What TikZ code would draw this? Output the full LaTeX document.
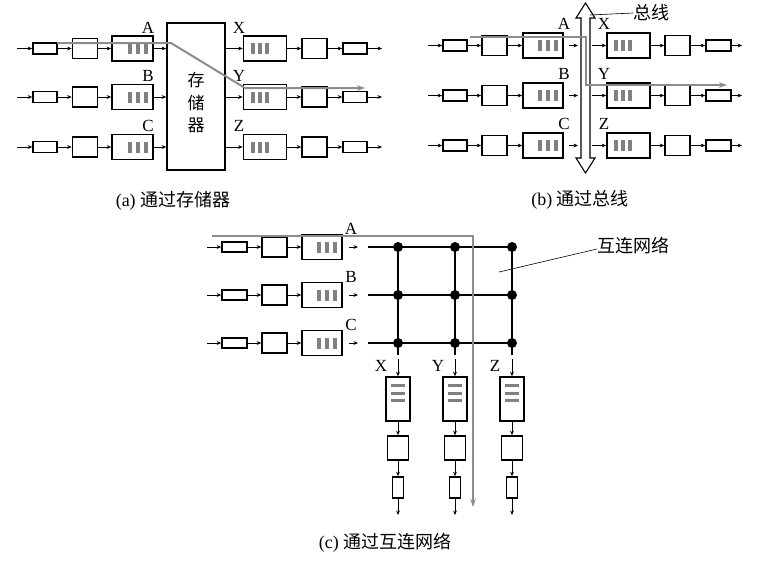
\documentclass[tikz,border=0pt]{standalone}
\usepackage{fontspec}
\setmainfont{Liberation Serif}
\newfontfamily\cjk{Noto Sans CJK SC}
\usetikzlibrary{arrows.meta}

\tikzset{
  box/.style={draw, line width=1.6pt, inner sep=0pt, fill=white},
  smbox/.style={box, minimum width=24, minimum height=11},
  sqbox/.style={box, minimum width=25, minimum height=20},
  bar/.style={fill=black!50},
  qright/.style={box, minimum width=41, minimum height=25, path picture={
    \foreach \k in {-23,-15,-7}
      \fill[bar] ([xshift=\k pt]path picture bounding box.east) ++(-2pt,5.5pt) rectangle ++(4pt,-11pt);}},
  qleft/.style={box, minimum width=43, minimum height=25, path picture={
    \foreach \k in {9,16,23}
      \fill[bar] ([xshift=\k pt]path picture bounding box.west) ++(-2pt,5.5pt) rectangle ++(4pt,-11pt);}},
  qdown/.style={box, minimum width=24, minimum height=44, path picture={
    \foreach \k in {8,16,23}
      \fill[bar] ([yshift=-\k pt]path picture bounding box.north) ++(-7pt,1.5pt) rectangle ++(14pt,-3pt);}},
  con/.style={line width=0.9pt, -{Stealth[length=4.5pt,width=3.8pt]}},
  grey/.style={draw=black!45, line width=2pt, -{Stealth[length=8pt,width=5.5pt]}},
  lbl/.style={font=\fontsize{17}{19}\selectfont, inner sep=0pt},
  captxt/.style={font=\fontsize{18}{20}\selectfont, inner sep=0pt},
  zh/.style={font=\cjk\fontsize{18}{20}\selectfont, inner sep=0pt},
  net/.style={line width=2.4pt},
  dot/.style={circle, fill, inner sep=0pt, minimum size=10},
}

\begin{document}
\begin{tikzpicture}[x=1pt,y=-1pt]
\useasboundingbox (0,0) rectangle (779,563);

% (a) memory
\node[box, minimum width=58, minimum height=147] (mem) at (196,96.5) {};
\node[font=\cjk\fontsize{17}{22.5}\selectfont, align=center, inner sep=0pt] (memtxt) at (196,103) {存\\储\\器};
\foreach \i/\y/\l in {1/48.5/A,2/97/B,3/147/C}{
  \coordinate (ain\i) at (17,\y);
  \node[smbox] (asm\i) at (45,\y) {};
  \node[sqbox] (asq\i) at (85,\y) {};
  \node[qright] (aq\i) at (132.5,\y) {};
  \node[lbl] (al\i) at (148,\y-21) {\l};
  \draw[con] (ain\i) -- (asm\i);
  \draw[con] (asm\i) -- (asq\i);
  \draw[con] (asq\i) -- (aq\i);
  \draw[con] (aq\i) -- (aq\i -| mem.west);
}
\foreach \i/\y/\l in {1/48.5/X,2/97/Y,3/147/Z}{
  \node[qleft] (aoq\i) at (265,\y) {};
  \node[sqbox] (aosq\i) at (314.5,\y) {};
  \node[smbox] (aosm\i) at (355,\y) {};
  \coordinate (aout\i) at (382,\y);
  \node[lbl] (aol\i) at (239,\y-21) {\l};
  \draw[con] (aoq\i -| mem.east) -- (aoq\i);
  \draw[con] (aoq\i) -- (aosq\i);
  \draw[con] (aosq\i) -- (aosm\i);
  \draw[con] (aosm\i) -- (aout\i);
}
\coordinate (ag0) at (57,43);
\coordinate (ag1) at (171,43);
\coordinate (ag2) at (245,88);
\coordinate (ag3) at (365,88);
\draw[grey] (ag0) -- (ag1) -- (ag2) -- (ag3);
\node[captxt] (capa) at (173,201) {(a) {\cjk 通过存储器}};

% (b) bus
\draw[line width=1.1pt, fill=white] (585.5,3) -- (595,18) -- (590,18) -- (590,158) -- (595,158)
  -- (585.5,173) -- (576,158) -- (581,158) -- (581,18) -- (576,18) -- cycle;
\coordinate (bustop) at (590,15);
\node[zh, anchor=west] (busl) at (633,13) {总线};
\draw[line width=0.6pt] (bustop) -- (busl.west);
\foreach \i/\y/\l in {1/45.5/A,2/95.5/B,3/145.5/C}{
  \coordinate (bin\i) at (428,\y);
  \node[smbox] (bsm\i) at (455,\y) {};
  \node[sqbox] (bsq\i) at (494.5,\y) {};
  \node[qright, minimum width=40] (bq\i) at (543,\y) {};
  \coordinate (bend\i) at (578,\y);
  \node[lbl] (bl\i) at (564,\y-21.5) {\l};
  \draw[con] (bin\i) -- (bsm\i);
  \draw[con] (bsm\i) -- (bsq\i);
  \draw[con] (bsq\i) -- (bq\i);
  \draw[con, shorten <=5pt] (bq\i) -- (bend\i);
}
\foreach \i/\y/\l in {1/45.5/X,2/95.5/Y,3/145.5/Z}{
  \coordinate (bst\i) at (592,\y);
  \node[qleft] (boq\i) at (628.5,\y) {};
  \node[sqbox] (bosq\i) at (677.5,\y) {};
  \node[smbox, minimum width=25] (bosm\i) at (718.5,\y) {};
  \coordinate (bout\i) at (742,\y);
  \node[lbl] (bol\i) at (604,\y-21.5) {\l};
  \draw[con] (bst\i) -- (boq\i);
  \draw[con] (boq\i) -- (bosq\i);
  \draw[con] (bosq\i) -- (bosm\i);
  \draw[con] (bosm\i) -- (bout\i);
}
\coordinate (bg0) at (470,37);
\coordinate (bg1) at (586,37);
\coordinate (bg2) at (586,85);
\coordinate (bg3) at (727,85);
\draw[grey] (bg0) -- (bg1) -- (bg2) -- (bg3);
\node[captxt] (capb) at (580,200) {(b) {\cjk 通过总线}};

% (c) interconnection network
\foreach \i/\y/\l in {1/247/A,2/295/B,3/343/C}{
  \coordinate (cin\i) at (207,\y);
  \node[smbox, minimum width=25, minimum height=10] (csm\i) at (234.5,\y) {};
  \node[sqbox] (csq\i) at (274.5,\y) {};
  \node[qright, minimum width=40] (cq\i) at (322,\y) {};
  \coordinate (cend\i) at (358,\y);
  \coordinate (cw\i) at (368,\y);
  \coordinate (ce\i) at (512,\y);
  \node[lbl] (cl\i) at (351,\y-18) {\l};
  \draw[con] (cin\i) -- (csm\i);
  \draw[con] (csm\i) -- (csq\i);
  \draw[con] (csq\i) -- (cq\i);
  \draw[con, shorten <=6pt] (cq\i) -- (cend\i);
  \draw[net] (cw\i) -- (ce\i);
}
\foreach \j/\x/\l in {1/398/X,2/455/Y,3/512/Z}{
  \coordinate (ctop\j) at (\x,247);
  \coordinate (cbot\j) at (\x,355);
  \coordinate (carr\j) at (\x,359);
  \node[qdown] (coq\j) at (\x,399) {};
  \node[box, minimum width=21, minimum height=24] (cosq\j) at (\x,448) {};
  \node[box, minimum width=11, minimum height=21] (cosm\j) at (\x,487.5) {};
  \coordinate (cout\j) at (\x,515);
  \node[lbl] (col\j) at (\x-17,366) {\l};
  \draw[net] (ctop\j) -- (cbot\j);
  \draw[con] (carr\j) -- (coq\j);
  \draw[con] (coq\j) -- (cosq\j);
  \draw[con] (cosq\j) -- (cosm\j);
  \draw[con] (cosm\j) -- (cout\j);
}
\foreach \i in {1,2,3}
  \foreach \j in {1,2,3}
    \node[dot] (d\i\j) at (ctop\j |- cw\i) {};
\coordinate (netp) at (499,272);
\node[zh, anchor=west] (netl) at (597,246) {互连网络};
\draw[line width=0.6pt] (netp) -- ([yshift=-3pt]netl.west);
\coordinate (cg0) at (212,236);
\coordinate (cg1) at (473,236);
\coordinate (cg2) at (473,507);
\draw[grey] (cg0) -- (cg1) -- (cg2);
\node[captxt] (capc) at (385,543) {(c) {\cjk 通过互连网络}};
\end{tikzpicture}
\end{document}
